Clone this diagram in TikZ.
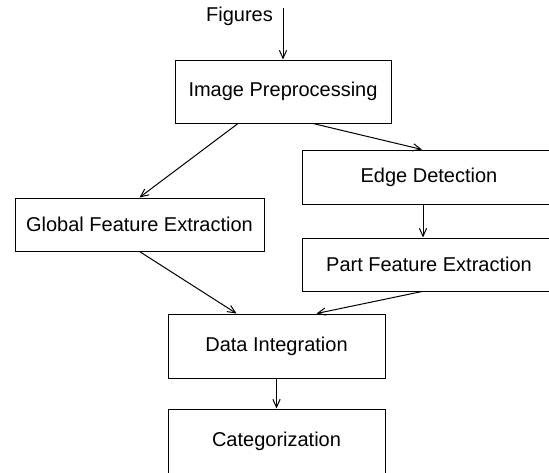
\documentclass[tikz,border=0pt]{standalone}
\usepackage{fontspec}
\setmainfont{Liberation Sans}
\usetikzlibrary{arrows.meta}

\begin{document}
\begin{tikzpicture}[x=0.5pt,y=-0.5pt,line width=0.5pt,
    stage/.style={draw,minimum width=#1,minimum height=27pt,inner sep=0pt},
    flow/.style={-{Straight Barb[length=4pt,width=3.6pt]}}]
    \useasboundingbox (0,0) rectangle (549,472);
    \clip (0,0) rectangle (549,472);

    % input
    \coordinate (fig) at (283,8);
    \node[anchor=east] (figlbl) at (280,16) {Figures};

    % processing stages
    \node[stage=108pt,minimum height=31.5pt] (prep) at (283,91.5) {Image Preprocessing};
    \node[stage=124.5pt,minimum height=26.5pt] (glob) at (139.5,224.5) {Global Feature Extraction};
    \node[stage=127pt] (edge) at (429,177) {Edge Detection};
    \node[stage=127pt,minimum height=26.5pt] (part) at (429,264.5) {Part Feature Extraction};
    \node[stage=108.5pt,minimum height=32pt] (integ) at (276.5,346) {Data Integration};
    \node[stage=108.5pt,minimum height=32pt] (categ) at (276.5,441) {Categorization};

    \draw[flow] (fig) -- (prep);
    \draw[flow] ([xshift=-22.5pt]prep.south) -- (glob.north);
    \draw[flow] ([xshift=15pt]prep.south) -- ([xshift=-3.5pt]edge.north);
    \draw[flow] ([xshift=-3pt]edge.south) -- ([xshift=-3pt]part.north);
    \draw[flow] (glob.south) -- ([xshift=-20pt]integ.north);
    \draw[flow] ([xshift=-3.5pt]part.south) -- ([xshift=20pt]integ.north);
    \draw[flow] (integ) -- (categ);
\end{tikzpicture}
\end{document}
